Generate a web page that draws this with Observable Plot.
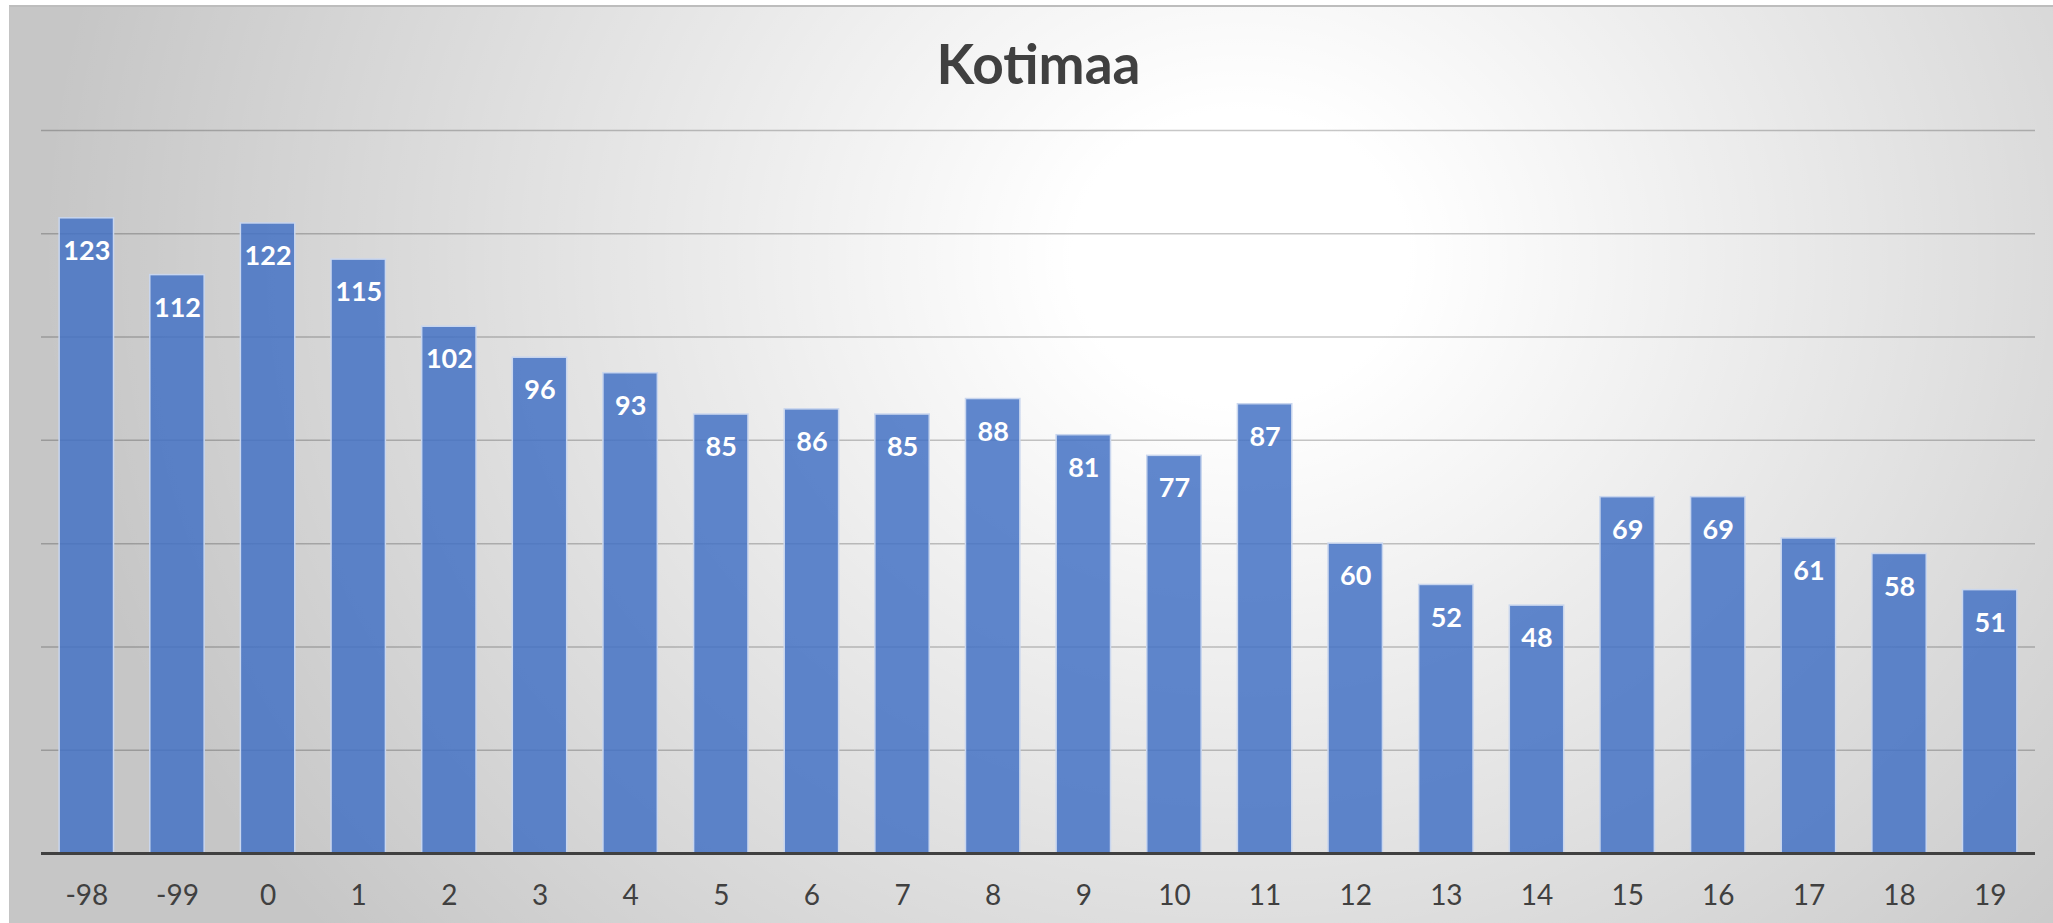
<!DOCTYPE html>
<html>
<head>
<meta charset="utf-8">
<script src="https://cdn.jsdelivr.net/npm/d3@7"></script>
<script src="https://cdn.jsdelivr.net/npm/@observablehq/plot@0.6"></script>
<style>
  html, body { margin: 0; padding: 0; background: #ffffff; }
  body { width: 2053px; height: 923px; position: relative; overflow: hidden; font-family: Lato, "Open Sans", sans-serif; }
  #chart {
    position: absolute; left: 9px; top: 5px; width: 2044px; height: 918px;
    box-sizing: border-box; border-top: 2px solid #bdbdbd; border-left: 1px solid #c4c4c4;
    background:
      radial-gradient(ellipse 1200px 1050px at 1230px 250px, rgba(255,255,255,1) 0%, rgba(255,255,255,1) 14%, rgba(255,255,255,0) 100%),
      #c6c6c6;
  }
  #title {
    position: absolute; left: 0; right: 0; top: 28px; text-align: center;
    font-family: Lato, sans-serif; font-weight: 700; font-size: 55px; line-height: 56px;
    color: #404040; padding-left: 14px;
  }
  #plot { position: absolute; left: -1px; top: 108px; }
  #plot svg { background: transparent !important; overflow: visible; }
</style>
</head>
<body>
<div id="chart">
  <div id="title">Kotimaa</div>
  <div id="plot"></div>
</div>
<script>
const categories = ["-98", "-99", "0", "1", "2", "3", "4", "5", "6", "7", "8", "9", "10", "11", "12", "13", "14", "15", "16", "17", "18", "19"];
const values = [123, 112, 122, 115, 102, 96, 93, 85, 86, 85, 88, 81, 77, 87, 60, 52, 48, 69, 69, 61, 58, 51];
const gridTicks = [20, 40, 60, 80, 100, 120, 140];
const yDomain = [0, 140];

const data = categories.map((c, i) => ({cat: c, value: values[i]}));

const chart = Plot.plot({
  width: 2044,
  height: 810,
  marginTop: 15,
  marginBottom: 72,
  marginLeft: 32,
  marginRight: 18,
  style: {background: "transparent", fontFamily: "Lato, sans-serif"},
  x: {domain: categories, type: "band", paddingInner: 0.4, paddingOuter: 0.2, round: false, label: null},
  y: {domain: yDomain, axis: null},
  marks: [
    Plot.ruleY(gridTicks, {stroke: "#000", strokeOpacity: 0.22, strokeWidth: 1.5}),
    Plot.barY(data, {x: "cat", y: "value", fill: "#4472c4", fillOpacity: 0.85, stroke: "#c9d6ee", strokeWidth: 1.5}),
    Plot.text(data, {x: "cat", y: "value", text: d => String(d.value), dy: 33, fill: "#ffffff", fontSize: 27, fontWeight: "bold", fontFamily: "Lato, sans-serif"}),
    Plot.ruleY([0], {stroke: "#404040", strokeWidth: 3}),
    Plot.axisX({tickSize: 0, tickPadding: 32, fontSize: 28, fill: "#404040", color: "#404040", fontFamily: "Lato, sans-serif", label: null})
  ]
});
document.getElementById("plot").appendChild(chart);
</script>
</body>
</html>
